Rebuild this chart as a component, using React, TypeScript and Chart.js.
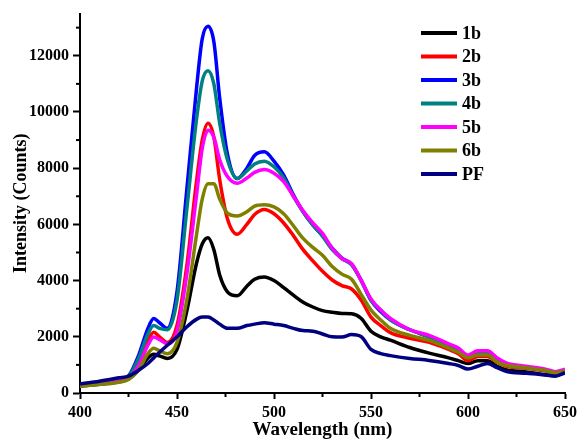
import React, { useEffect, useRef } from "react";
import { Chart, registerables } from "chart.js";

Chart.register(...registerables);

const wavelengths = [400, 410, 420, 425, 430, 435, 438, 441, 445, 450, 455, 460, 463, 466, 469, 472, 476, 481, 486, 490, 495, 500, 505, 510, 515, 520, 525, 530, 535, 540, 545, 550, 555, 560, 570, 580, 590, 595, 600, 605, 610, 615, 620, 630, 640, 645, 650];

const s1b = [250, 310, 400, 500, 800, 1250, 1380, 1320, 1230, 1550, 2900, 4600, 5300, 5520, 5100, 4200, 3600, 3460, 3800, 4050, 4130, 4000, 3750, 3480, 3230, 3060, 2930, 2870, 2830, 2820, 2650, 2200, 2000, 1880, 1620, 1420, 1250, 1150, 1050, 1150, 1150, 950, 820, 750, 650, 620, 750];
const s2b = [260, 330, 420, 550, 1000, 1850, 2160, 2000, 1800, 2400, 4500, 7500, 9000, 9600, 9100, 7600, 6200, 5650, 6000, 6350, 6530, 6380, 6050, 5600, 5100, 4700, 4330, 4020, 3820, 3700, 3300, 2700, 2400, 2150, 1950, 1800, 1550, 1400, 1150, 1300, 1300, 1100, 950, 880, 780, 700, 780];
const s3b = [280, 350, 450, 600, 1300, 2300, 2650, 2500, 2300, 3600, 7200, 10800, 12600, 13050, 12500, 10500, 8500, 7630, 8000, 8450, 8580, 8250, 7750, 7050, 6450, 5980, 5600, 5150, 4800, 4580, 4000, 3300, 2900, 2600, 2250, 2000, 1700, 1550, 1300, 1450, 1450, 1200, 1000, 920, 820, 730, 800];
const s4b = [270, 340, 440, 580, 1200, 2100, 2400, 2300, 2250, 3300, 6500, 9700, 11100, 11470, 11000, 9600, 8300, 7630, 7900, 8150, 8250, 8050, 7650, 7000, 6450, 5980, 5580, 5100, 4780, 4560, 4000, 3300, 2950, 2600, 2250, 2000, 1700, 1550, 1300, 1450, 1450, 1200, 1000, 900, 800, 720, 800];
const s5b = [250, 320, 420, 540, 950, 1700, 1990, 1900, 1750, 2200, 4200, 7000, 8700, 9350, 9100, 8300, 7700, 7460, 7650, 7850, 7950, 7820, 7520, 7000, 6480, 6050, 5680, 5150, 4780, 4600, 4000, 3350, 2950, 2650, 2250, 2050, 1750, 1600, 1350, 1500, 1500, 1250, 1060, 950, 850, 760, 850];
const s6b = [240, 300, 380, 480, 800, 1400, 1590, 1500, 1400, 1800, 3300, 5600, 6900, 7450, 7450, 6900, 6400, 6300, 6450, 6650, 6700, 6620, 6380, 5950, 5500, 5180, 4900, 4500, 4230, 4050, 3500, 2950, 2600, 2300, 2050, 1870, 1600, 1450, 1250, 1350, 1350, 1100, 980, 900, 800, 720, 790];
const sPF = [320, 420, 540, 600, 800, 1050, 1250, 1450, 1700, 2000, 2350, 2620, 2700, 2700, 2600, 2450, 2300, 2300, 2400, 2450, 2500, 2450, 2400, 2300, 2220, 2200, 2100, 2000, 1990, 2080, 2000, 1550, 1400, 1330, 1230, 1160, 1050, 980, 850, 950, 1050, 900, 760, 700, 640, 600, 720];

const seriesLabels = ["1b", "2b", "3b", "4b", "5b", "6b", "PF"];
const seriesColors = ["#000000", "#FF0000", "#0000FF", "#008080", "#FF00FF", "#808000", "#000080"];
const seriesValues = [s1b, s2b, s3b, s4b, s5b, s6b, sPF];

const xTicks = [400, 450, 500, 550, 600, 650];
const yTicks = [0, 2000, 4000, 6000, 8000, 10000, 12000];

const FONT = "'Liberation Serif', 'Times New Roman', serif";

const extrasPlugin = {
  id: "extras",
  afterDraw(chart: any) {
    const ctx = chart.ctx;
    const xs = chart.scales.x;
    const ys = chart.scales.y;
    const area = chart.chartArea;
    ctx.save();
    ctx.strokeStyle = "#000";
    ctx.lineWidth = 2;
    for (let v = 425; v < 650; v += 50) {
      const px = xs.getPixelForValue(v);
      ctx.beginPath();
      ctx.moveTo(px, area.bottom);
      ctx.lineTo(px, area.bottom + 4);
      ctx.stroke();
    }
    for (let v = 1000; v < 13500; v += 2000) {
      const py = ys.getPixelForValue(v);
      ctx.beginPath();
      ctx.moveTo(area.left, py);
      ctx.lineTo(area.left - 4, py);
      ctx.stroke();
    }
    const lx0 = 421, lx1 = 457, tx = 462;
    const y0 = 33, dy = 23.5;
    ctx.font = `bold 18px ${FONT}`;
    ctx.textBaseline = "middle";
    ctx.textAlign = "left";
    seriesLabels.forEach((lab, i) => {
      const y = y0 + i * dy;
      ctx.strokeStyle = seriesColors[i];
      ctx.lineWidth = 4;
      ctx.beginPath();
      ctx.moveTo(lx0, y);
      ctx.lineTo(lx1, y);
      ctx.stroke();
      ctx.fillStyle = "#000";
      ctx.fillText(lab, tx, y + 1);
    });
    ctx.restore();
  },
};

export default function App() {
  const ref = useRef<HTMLCanvasElement | null>(null);
  useEffect(() => {
    if (!ref.current) return;
    const chart = new Chart(ref.current, {
      type: "line",
      data: {
        labels: wavelengths,
        datasets: seriesValues.map((vals, i) => ({
          label: seriesLabels[i],
          data: vals.map((v, j) => ({ x: wavelengths[j], y: v })),
          borderColor: seriesColors[i],
          backgroundColor: seriesColors[i],
          borderWidth: 3.5,
          pointRadius: 0,
          cubicInterpolationMode: "monotone" as const,
          order: 6 - i,
        })),
      },
      options: {
        animation: false,
        responsive: true,
        maintainAspectRatio: false,
        layout: { padding: { left: 0, right: 16, top: 11, bottom: 0 } },
        plugins: { legend: { display: false }, tooltip: { enabled: false } },
        scales: {
          x: {
            type: "linear",
            min: 400,
            max: 650,
            afterBuildTicks: (s: any) => {
              s.ticks = xTicks.map((v) => ({ value: v }));
            },
            afterFit: (s: any) => {
              s.height = 48;
            },
            grid: { display: true, drawOnChartArea: false, drawTicks: true, tickLength: 6, tickWidth: 2, tickColor: "#000" },
            border: { display: true, color: "#000", width: 2 },
            ticks: { color: "#000", padding: 4, maxRotation: 0, callback: (v: any) => String(v), font: { family: FONT, size: 16, weight: "bold" } },
            title: { display: true, text: "Wavelength (nm)", color: "#000", padding: { top: 0, bottom: 0 }, font: { family: FONT, size: 19, weight: "bold" } },
          },
          y: {
            type: "linear",
            min: 0,
            max: 13500,
            afterBuildTicks: (s: any) => {
              s.ticks = yTicks.map((v) => ({ value: v }));
            },
            afterFit: (s: any) => {
              s.width = 80;
            },
            grid: { display: true, drawOnChartArea: false, drawTicks: true, tickLength: 7, tickWidth: 2, tickColor: "#000" },
            border: { display: true, color: "#000", width: 2 },
            ticks: { color: "#000", padding: 4, callback: (v: any) => String(v), font: { family: FONT, size: 16, weight: "bold" } },
            title: { display: true, text: "Intensity (Counts)", color: "#000", padding: { top: 11, bottom: 0 }, font: { family: FONT, size: 18, weight: "bold" } },
          },
        },
      },
      plugins: [extrasPlugin],
    });
    return () => chart.destroy();
  }, []);
  return (
    <div style={{ position: "absolute", left: 0, top: 0, width: 581, height: 441, background: "#fff" }}>
      <canvas ref={ref} />
    </div>
  );
}
